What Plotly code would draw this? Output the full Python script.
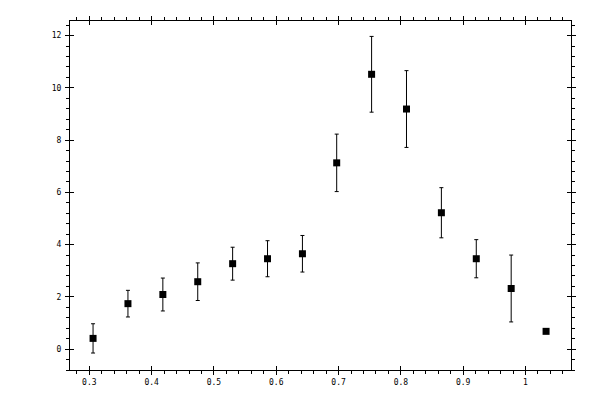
import plotly.graph_objects as go

# measured values
x_vals = [0.306, 0.362, 0.418, 0.474, 0.530, 0.586, 0.642, 0.697, 0.753, 0.809, 0.865, 0.921, 0.977, 1.033]
y_vals = [0.41, 1.74, 2.09, 2.58, 3.27, 3.46, 3.65, 7.13, 10.52, 9.19, 5.22, 3.46, 2.32, 0.68]
y_err = [0.56, 0.51, 0.63, 0.72, 0.63, 0.69, 0.70, 1.10, 1.45, 1.47, 0.96, 0.73, 1.28, 0.0]

x_range = [0.269, 1.073]
y_range = [-0.80, 12.56]

fig = go.Figure()
fig.add_trace(go.Scatter(
    x=x_vals, y=y_vals, mode='markers',
    marker=dict(symbol='square', size=7, color='black'),
    error_y=dict(type='data', array=y_err, visible=True, color='black', thickness=1, width=2),
    showlegend=False))
# dummy trace so the overlay axes get drawn
fig.add_trace(go.Scatter(x=[None], y=[None], xaxis='x2', yaxis='y2', showlegend=False, hoverinfo='skip'))

tickfont = dict(family='DejaVu Sans Mono', size=8, color='black')

# page body has an 8px margin, so margins are shifted to compensate
fig.update_layout(
    width=600, height=400,
    margin=dict(l=62, r=37, t=8, b=38),
    plot_bgcolor='white', paper_bgcolor='white',
    xaxis=dict(range=x_range, tick0=0, dtick=0.1, ticks='outside', ticklen=4, tickwidth=1,
               tickcolor='black', showline=True, linecolor='black', linewidth=1, mirror='allticks',
               showgrid=False, zeroline=False, tickfont=tickfont,
               minor=dict(tick0=0, dtick=0.02, ticks='outside', ticklen=3, tickcolor='black', showgrid=False)),
    yaxis=dict(range=y_range, tick0=0, dtick=2, ticks='outside', ticklen=4, tickwidth=1,
               tickcolor='black', showline=True, linecolor='black', linewidth=1, mirror='allticks',
               showgrid=False, zeroline=False, tickfont=tickfont, ticklabelstandoff=2,
               minor=dict(tick0=0, dtick=0.4, ticks='outside', ticklen=3, tickcolor='black', showgrid=False)),
    xaxis2=dict(overlaying='x', range=x_range, tick0=0, dtick=0.1, ticks='inside', ticklen=4,
                tickcolor='black', showticklabels=False, showline=True, linecolor='black',
                mirror='allticks', showgrid=False, zeroline=False),
    yaxis2=dict(overlaying='y', range=y_range, tick0=0, dtick=2, ticks='inside', ticklen=4,
                tickcolor='black', showticklabels=False, showline=True, linecolor='black',
                mirror='allticks', showgrid=False, zeroline=False),
)

fig.write_html("out.html")
